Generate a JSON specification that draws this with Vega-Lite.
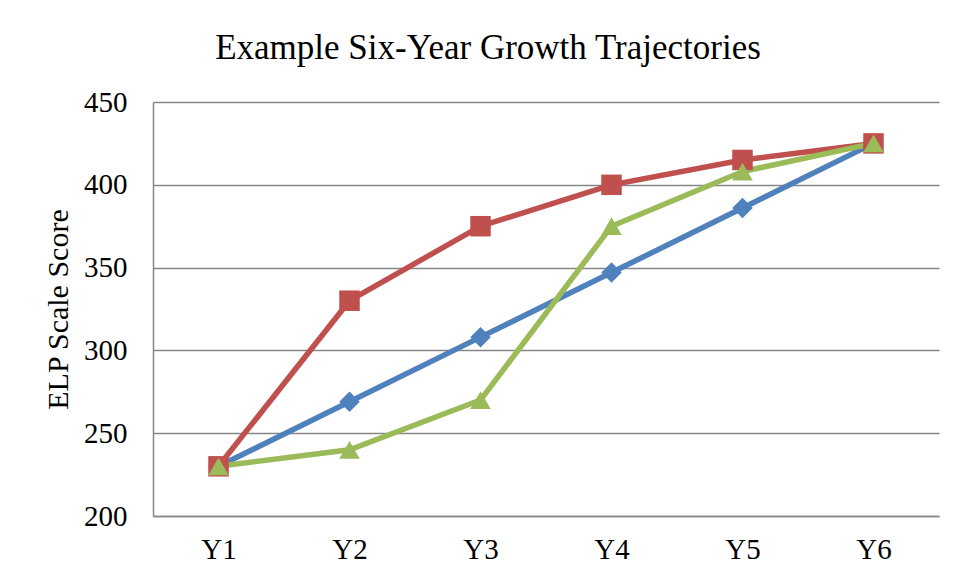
{
  "$schema": "https://vega.github.io/schema/vega-lite/v6.json",
  "autosize": "none",
  "width": 786,
  "height": 414,
  "padding": {"left": 153, "top": 102, "right": 20, "bottom": 66},
  "background": "white",
  "config": {
    "font": "Liberation Serif",
    "view": {"stroke": null},
    "axis": {"labelFont": "Liberation Serif", "titleFont": "Liberation Serif", "labelColor": "black", "titleColor": "black"}
  },
  "title": {
    "text": "Example Six-Year Growth Trajectories",
    "fontSize": 35,
    "font": "Liberation Serif",
    "fontWeight": "normal",
    "color": "black",
    "anchor": "middle",
    "dx": -58,
    "dy": 48,
    "baseline": "alphabetic",
    "offset": 42
  },
  "data": {
    "values": [
      {"year": "Y1", "series": "A", "score": 230},
      {"year": "Y2", "series": "A", "score": 269},
      {"year": "Y3", "series": "A", "score": 308},
      {"year": "Y4", "series": "A", "score": 347},
      {"year": "Y5", "series": "A", "score": 386},
      {"year": "Y6", "series": "A", "score": 425},
      {"year": "Y1", "series": "B", "score": 230},
      {"year": "Y2", "series": "B", "score": 330},
      {"year": "Y3", "series": "B", "score": 375},
      {"year": "Y4", "series": "B", "score": 400},
      {"year": "Y5", "series": "B", "score": 415},
      {"year": "Y6", "series": "B", "score": 425},
      {"year": "Y1", "series": "C", "score": 230},
      {"year": "Y2", "series": "C", "score": 240},
      {"year": "Y3", "series": "C", "score": 270},
      {"year": "Y4", "series": "C", "score": 375},
      {"year": "Y5", "series": "C", "score": 408},
      {"year": "Y6", "series": "C", "score": 425}
    ]
  },
  "encoding": {
    "x": {
      "field": "year", "type": "ordinal",
      "scale": {"type": "point", "padding": 0.5},
      "axis": {"title": null, "labelAngle": 0, "labelFontSize": 29, "ticks": false, "grid": false, "domainColor": "#868686", "domainWidth": 1.5, "labelPadding": 19}
    },
    "y": {
      "field": "score", "type": "quantitative",
      "scale": {"domain": [200, 450], "nice": false, "zero": false},
      "axis": {"title": "ELP Scale Score", "titleFontSize": 30, "titleFontWeight": "normal", "values": [200, 250, 300, 350, 400, 450], "labelFontSize": 29, "ticks": false, "labelPadding": 26, "grid": true, "gridColor": "#868686", "gridWidth": 1.5, "domainColor": "#868686", "domainWidth": 1.5, "titlePadding": 10}
    },
    "color": {
      "field": "series", "type": "nominal",
      "scale": {"domain": ["A", "B", "C"], "range": ["#4F81BD", "#C0504D", "#9BBB59"]},
      "legend": null
    }
  },
  "layer": [
    {
      "mark": {"type": "line", "strokeWidth": 5.5},
      "encoding": {"detail": {"field": "series"}}
    },
    {
      "mark": {"type": "point", "filled": true, "opacity": 1},
      "encoding": {
        "shape": {
          "field": "series", "type": "nominal",
          "scale": {"domain": ["A", "B", "C"], "range": ["diamond", "square", "triangle-up"]},
          "legend": null
        },
        "size": {"value": 420}
      }
    }
  ]
}
